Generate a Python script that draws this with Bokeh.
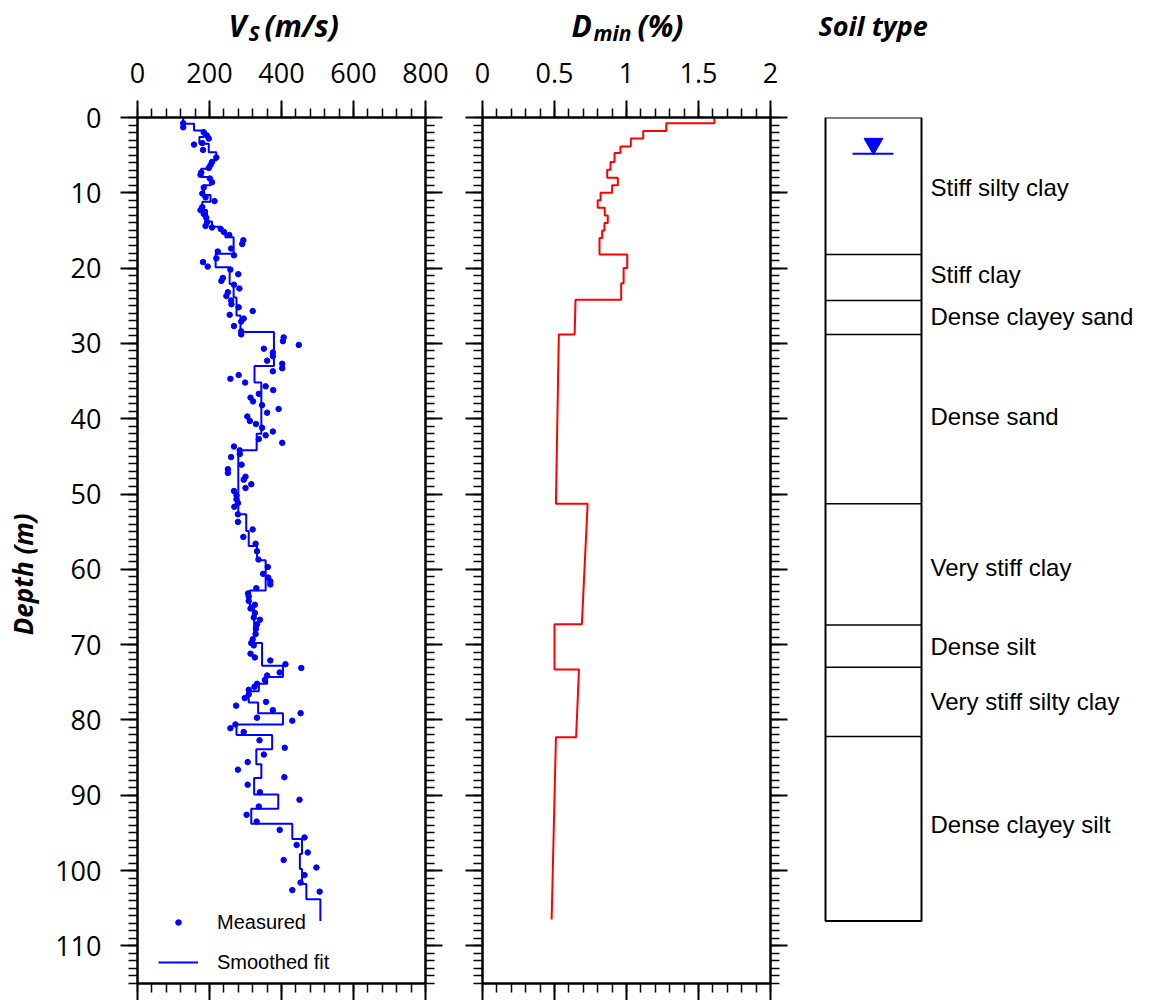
import math
from bokeh.plotting import figure
from bokeh.layouts import row, column
from bokeh.models import (Range1d, LinearAxis, SingleIntervalTicker, Legend, LegendItem,
                          CustomJSTickFormatter)
from bokeh.embed import file_html
from bokeh.resources import INLINE
from bokeh.core.properties import value

# ---------------- data ----------------
meas_depth = [0.76, 1.3, 1.95, 2.4, 2.8, 3.4, 3.6, 4.3, 5.3, 5.9, 6.3, 6.7, 7.3, 7.6, 8.1, 8.6, 9.3,
              10.1, 10.6, 11.1, 11.9, 12.3, 12.8, 13.3, 13.9, 14.4, 14.6, 14.8, 15.2, 15.6, 16.3, 16.8,
              17.4, 17.8, 18.3, 18.7, 19.2, 19.8, 20.2, 20.8, 21.3, 21.7, 22.2, 22.7, 23.2, 23.7, 24.3,
              24.8, 25.2, 25.7, 26.2, 26.7, 27.1, 27.7, 28.4, 28.8, 29.2, 29.7, 30.2, 30.7, 31.2, 31.7,
              32.3, 32.7, 33.3, 33.7, 34.2, 34.7, 35.2, 35.7, 36.2, 36.7, 37.2, 37.7, 38.2, 38.7, 39.2,
              39.7, 40.3, 40.7, 41.2, 41.7, 42.2, 42.7, 43.2, 43.7, 44.2, 44.7, 45.1, 46.1, 46.7, 47.2,
              47.7, 48.1, 48.7, 49.2, 49.6, 50.2, 50.7, 51.2, 51.7, 52.7, 53.7, 54.7, 55.7, 56.6, 57.6,
              58.7, 59.7, 60.6, 61.1, 61.6, 62.0, 62.5, 63.2, 63.6, 64.2, 64.7, 65.2, 65.8, 66.4, 66.7,
              67.3, 67.9, 68.6, 69.3, 69.8, 70.1, 71.2, 71.7, 72.1, 72.6, 73.1, 73.7, 74.1, 74.7, 75.2,
              75.6, 76.0, 76.6, 77.1, 77.6, 78.1, 78.7, 79.1, 79.7, 80.1, 80.6, 81.1, 81.6, 82.7, 83.7,
              84.6, 85.6, 86.6, 87.6, 88.6, 89.6, 90.6, 91.5, 92.6, 93.5, 94.6, 95.6, 96.6, 97.6, 98.6,
              99.6, 100.6, 101.6, 102.6, 102.8]
meas_vs = [127, 127, 184, 193, 198, 180, 157, 182, 219, 207, 203, 198, 177, 175, 201, 207, 184,
           180, 189, 214, 180, 175, 184, 191, 193, 189, 207, 231, 240, 255, 294, 291,
           260, 223, 268, 219, 182, 195, 258, 280, 237, 233, 268, 283, 251, 247, 260,
           261, 281, 320, 256, 295, 288, 268, 288, 288, 406, 404, 448, 351, 376, 376,
           360, 402, 402, 376, 281, 258, 299, 356, 377, 337, 314, 321, 346, 392, 360,
           305, 312, 329, 346, 376, 356, 337, 402, 268, 284, 284, 260, 289, 251, 251,
           300, 295, 316, 300, 268, 275, 275, 279, 269, 279, 279, 320, 294, 328, 332,
           336, 362, 349, 363, 369, 369, 330, 307, 309, 309, 326, 314, 326, 323, 340,
           332, 329, 328, 320, 316, 323, 314, 326, 369, 411, 455, 395, 360, 354, 332,
           325, 309, 309, 298, 357, 274, 376, 453, 332, 430, 272, 258, 295, 339, 409,
           351, 306, 279, 408, 306, 340, 450, 337, 303, 331, 395, 464, 442, 473, 406,
           497, 464, 453, 430, 506]

# smoothed fit: layer boundaries (m) and velocity of each layer (m/s)
fit_bounds = [0, 0.84, 1.73, 2.6, 3.5, 4.6, 5.7, 6.8, 7.9, 9.0, 10.3, 11.2, 12.3, 13.8, 14.5, 15.0,
              15.9, 18.1, 19.9, 22.1, 23.9, 26.3, 28.5, 33.0, 35.2, 42.0, 44.2, 52.7, 54.9, 56.9,
              58.8, 62.8, 64.8, 69.8, 72.8, 74.3, 75.2, 76.2, 77.7, 79.1, 80.6, 82.0, 83.9, 85.9,
              87.7, 89.9, 91.8, 93.8, 95.8, 97.8, 99.8, 101.8, 103.8, 106.7]
fit_vs = [127, 157, 184, 172, 198, 219, 203, 177, 203, 184, 203, 180, 193, 207, 231, 244, 267, 217,
          256, 267, 275, 286, 379, 325, 344, 331, 280, 302, 309, 332, 356, 312, 324, 346, 404, 360,
          337, 309, 335, 404, 275, 374, 330, 344, 324, 391, 316, 430, 457, 451, 457, 469, 508]

# Dmin: layer boundaries (m), value at top and bottom of each layer (%)
dmin_bounds = [0, 0.75, 1.8, 2.8, 3.85, 4.7, 5.9, 6.95, 8.0, 9.0, 10.0, 11.0, 12.0, 13.0, 14.0, 15.0,
               16.0, 18.2, 20.0, 22.0, 24.2, 28.8, 51.3, 67.3, 73.3, 82.3, 106.5]
dmin_top = [1.61, 1.276, 1.116, 1.03, 0.958, 0.917, 0.889, 0.866, 0.94, 0.90, 0.82, 0.80, 0.849, 0.87,
            0.847, 0.831, 0.8125, 1.005, 0.98, 0.963, 0.646, 0.53, 0.73, 0.50, 0.67, 0.51]
dmin_bot = [1.61, 1.276, 1.116, 1.03, 0.958, 0.917, 0.889, 0.866, 0.94, 0.90, 0.82, 0.80, 0.849, 0.87,
            0.847, 0.831, 0.8125, 1.005, 0.98, 0.963, 0.64, 0.51, 0.69, 0.50, 0.65, 0.48]

soil_bounds = [0, 18.2, 24.3, 28.8, 51.3, 67.4, 73.0, 82.2, 106.7]
soil_names = ["Stiff silty clay", "Stiff clay", "Dense clayey sand", "Dense sand",
              "Very stiff clay", "Dense silt", "Very stiff silty clay", "Dense clayey silt"]
soil_label_depth = [9.3, 20.9, 26.4, 39.7, 59.7, 70.3, 77.5, 93.9]
water_table_depth = 4.8

DEPTH_MAX = 115
FONT = "Open Sans"
SANS = "Liberation Sans"
HEADER_H = 45
PANEL_H = 1000 - HEADER_H
TOP_B = 72
BOT_B = 17

# ---------------- helpers ----------------
def style_axis(ax, interval, nminor, labels=True, standoff=18):
    ax.ticker = SingleIntervalTicker(interval=interval, num_minor_ticks=nminor)
    ax.axis_line_width = 2
    ax.axis_line_color = "black"
    ax.major_tick_in = 0
    ax.major_tick_out = 17
    ax.minor_tick_in = 0
    ax.minor_tick_out = 9
    ax.major_tick_line_width = 2
    ax.minor_tick_line_width = 1.5
    ax.major_tick_line_color = "black"
    ax.minor_tick_line_color = "black"
    if labels:
        ax.major_label_text_font = FONT
        ax.major_label_text_font_size = "27px"
        ax.major_label_text_color = "black"
        ax.major_label_standoff = standoff
    else:
        ax.formatter = CustomJSTickFormatter(code="return ''")
        ax.major_label_text_font_size = "1px"
        ax.major_label_standoff = 0


def make_panel(width, xr, xint, xminor, left_labels, border_left):
    p = figure(width=width, height=PANEL_H, x_range=xr, y_range=Range1d(DEPTH_MAX, 0),
               x_axis_location="above", output_backend="svg", toolbar_location=None,
               title=None,
               min_border_left=border_left, min_border_right=30, min_border_top=TOP_B,
               min_border_bottom=BOT_B)
    p.grid.visible = False
    p.outline_line_color = "black"
    p.outline_line_width = 2
    style_axis(p.above[0], xint, xminor, True, 18)
    style_axis(p.left[0], 10, 10, left_labels, 19)
    right = LinearAxis()
    style_axis(right, 10, 10, False)
    p.add_layout(right, "right")
    below = LinearAxis()
    style_axis(below, xint, xminor, False)
    p.add_layout(below, "below")
    return p


def blank(width, height, xr, yr):
    f = figure(width=width, height=height, x_range=xr, y_range=yr, title=None,
               x_axis_location=None, y_axis_location=None, output_backend="svg",
               toolbar_location=None, min_border=0)
    f.grid.visible = False
    f.outline_line_color = None
    return f

# ---------------- header with panel titles ----------------
hdr = blank(1160, HEADER_H, Range1d(0, 1160), Range1d(HEADER_H, 0))
title_parts = [("V", 228, 25, "30px"), ("S", 248, 32, "21px"), ("(m/s)", 264, 25, "30px"),
               ("D", 571, 25, "30px"), ("min", 593, 32, "21px"), ("(%)", 637, 25, "30px"),
               ("Soil type", 818, 25, "27px")]
for txt, x, y, fs in title_parts:
    hdr.text(x=[x], y=[y], text=[txt], text_font=value(FONT), text_font_style="bold italic",
             text_font_size=fs, text_baseline="alphabetic", text_color="black")

# ---------------- left strip with depth title ----------------
lab = blank(40, PANEL_H, Range1d(0, 40), Range1d(1000, HEADER_H))
lab.text(x=[22], y=[616], text=["Depth (m)"], angle=math.pi / 2, text_font=value(FONT),
         text_font_style="bold italic", text_font_size="26px", text_align="left",
         text_baseline="middle", text_color="black")

# ---------------- Vs panel ----------------
p1 = make_panel(415, Range1d(0, 800), 200, 5, True, 97)

fit_x, fit_y = [], []
for i, v in enumerate(fit_vs):
    fit_x += [v, v]
    fit_y += [fit_bounds[i], fit_bounds[i + 1]]

r_fit = p1.line(fit_x, fit_y, line_color="blue", line_width=2)
r_meas = p1.scatter(meas_vs, meas_depth, size=5.5, color="blue")

legend = Legend(items=[LegendItem(label="Measured", renderers=[r_meas]),
                       LegendItem(label="Smoothed fit", renderers=[r_fit])],
                location=(15, 0), glyph_width=40, glyph_height=14, label_height=30,
                label_standoff=19, spacing=10, padding=6, margin=0,
                border_line_alpha=0, background_fill_alpha=0,
                label_text_font=SANS, label_text_font_size="20px", label_text_color="black")
p1.add_layout(legend)

# ---------------- Dmin panel ----------------
p2 = make_panel(345, Range1d(0, 2), 0.5, 5, False, 27)
d_x, d_y = [], []
for i in range(len(dmin_top)):
    d_x += [dmin_top[i], dmin_bot[i]]
    d_y += [dmin_bounds[i], dmin_bounds[i + 1]]
p2.line(d_x, d_y, line_color="red", line_width=2)

# ---------------- Soil column ----------------
p3 = figure(width=360, height=PANEL_H, x_range=Range1d(0, 360), y_range=Range1d(DEPTH_MAX, 0),
            x_axis_location=None, y_axis_location=None, output_backend="svg", title=None,
            toolbar_location=None, min_border_left=0, min_border_right=0,
            min_border_top=TOP_B, min_border_bottom=BOT_B)
p3.grid.visible = False
p3.outline_line_color = None

BOX_L, BOX_R = 25, 121
p3.quad(left=[BOX_L], right=[BOX_R], top=[soil_bounds[0]], bottom=[soil_bounds[-1]],
        fill_color=None, line_color="black", line_width=2)
inner = soil_bounds[1:-1]
p3.segment(x0=[BOX_L] * len(inner), x1=[BOX_R] * len(inner), y0=inner, y1=inner,
           line_color="black", line_width=1.5)
p3.segment(x0=[52], x1=[93], y0=[water_table_depth], y1=[water_table_depth],
           line_color="blue", line_width=2)
p3.scatter(x=[73], y=[water_table_depth - 1.3], marker="inverted_triangle", size=19,
           color="blue")
p3.text(x=[130] * len(soil_names), y=soil_label_depth, text=soil_names,
        text_font=value(SANS), text_font_size="24px", text_baseline="middle",
        text_color="black")

layout = column(hdr, row(lab, p1, p2, p3, spacing=0), spacing=0)
open("out.html", "w").write(file_html(layout, INLINE))
